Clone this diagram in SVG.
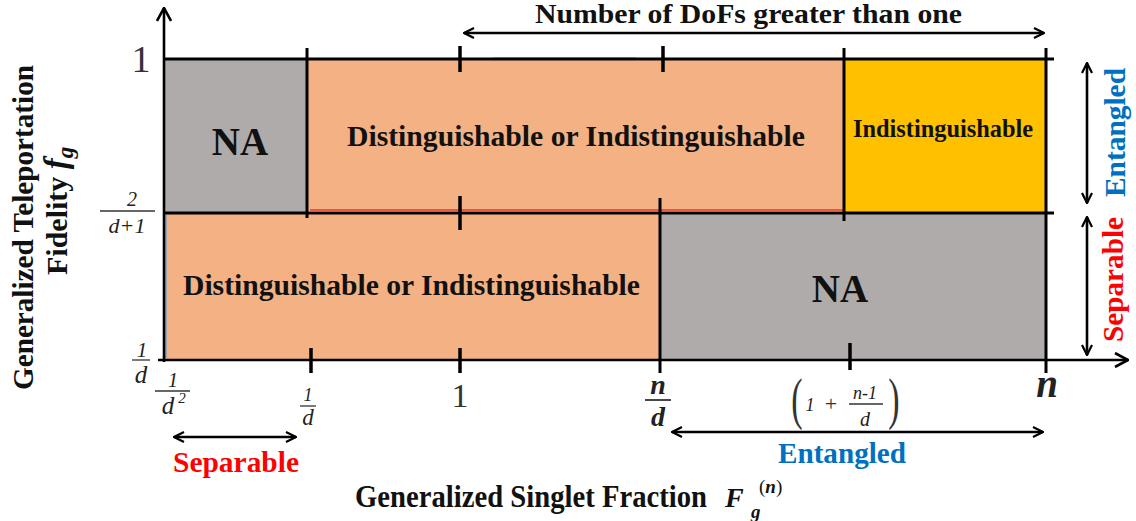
<svg xmlns="http://www.w3.org/2000/svg" width="1136" height="521" viewBox="0 0 1136 521">
<defs>
<marker id="ah" viewBox="0 0 12 12" refX="11" refY="6" markerWidth="12" markerHeight="12" markerUnits="userSpaceOnUse" orient="auto-start-reverse">
<path d="M1,1 L11,6 L1,11" fill="none" stroke="#000" stroke-width="2.2"/>
</marker>
<marker id="ax" viewBox="0 0 16 16" refX="15" refY="8" markerWidth="16" markerHeight="16" markerUnits="userSpaceOnUse" orient="auto">
<path d="M2,1 L15,8 L2,15" fill="none" stroke="#000" stroke-width="2.6"/>
</marker>
</defs>
<style>
.ln{stroke:#000;stroke-width:3;fill:none}
.tk{stroke:#000;stroke-width:3.5}
.arr{stroke:#000;stroke-width:2.6;fill:none}
.b{font-family:"Liberation Serif",serif;font-weight:bold;fill:#111}
.m{font-family:"Liberation Serif",serif;font-style:italic;fill:#222}
.mr{font-family:"Liberation Serif",serif;fill:#333}
.fr{stroke:#333;stroke-width:1.3}
.red{fill:#FF0000}
.blue{fill:#0070C0}
</style>
<rect width="1136" height="521" fill="#fff"/>
<g id="regions">
<g id="na-top"><rect x="164" y="59" width="143" height="154" fill="#AFABAB"/><text class="b" x="240" y="155" font-size="39" text-anchor="middle">NA</text></g>
<g id="dist-top"><rect x="307" y="59" width="537" height="152" fill="#F4B183"/><line x1="310" y1="210" x2="843" y2="210" stroke="#d00" stroke-width="1.2"/><line x1="493" y1="58" x2="636" y2="58" stroke="#70ad47" stroke-width="1"/><text class="b" x="347" y="146" font-size="30" textLength="458" lengthAdjust="spacingAndGlyphs">Distinguishable or Indistinguishable</text></g>
<g id="indist"><rect x="844" y="59" width="202" height="154" fill="#FFC000"/><text class="b" x="853" y="137" font-size="24.5" textLength="180" lengthAdjust="spacingAndGlyphs">Indistinguishable</text></g>
<g id="dist-bottom"><rect x="164" y="213" width="496" height="147" fill="#F4B183"/><line x1="166" y1="215" x2="166" y2="358" stroke="#5b9bd5" stroke-width="1.2"/><text class="b" x="183" y="295" font-size="30" textLength="457" lengthAdjust="spacingAndGlyphs">Distinguishable or Indistinguishable</text></g>
<g id="na-bottom"><rect x="660" y="213" width="386" height="147" fill="#AFABAB"/><text class="b" x="840" y="302" font-size="39" text-anchor="middle">NA</text></g>
</g>
<g id="connectors">
<line class="arr" x1="164" y1="362" x2="164" y2="8" marker-end="url(#ax)"/>
<line class="arr" x1="158" y1="360" x2="1128" y2="360" marker-end="url(#ax)"/>
<line class="ln" x1="164" y1="59" x2="1054" y2="59"/>
<line class="ln" x1="164" y1="213" x2="1054" y2="213"/>
<line class="ln" x1="307" y1="48" x2="307" y2="218"/>
<line class="ln" x1="844" y1="48" x2="844" y2="221"/>
<line class="ln" x1="1046" y1="48" x2="1046" y2="373"/>
<line class="ln" x1="660" y1="198" x2="660" y2="373"/>
<line class="tk" x1="460" y1="46" x2="460" y2="72"/>
<line class="tk" x1="663" y1="46" x2="663" y2="72"/>
<line class="tk" x1="460" y1="196" x2="460" y2="230"/>
<line class="tk" x1="460" y1="348" x2="460" y2="373"/>
<line class="tk" x1="311" y1="348" x2="311" y2="373"/>
<line class="tk" x1="850" y1="343" x2="850" y2="370"/>
<line class="arr" x1="464" y1="33" x2="1044" y2="33" marker-start="url(#ah)" marker-end="url(#ah)"/>
<line class="arr" x1="1087" y1="63" x2="1087" y2="203" marker-start="url(#ah)" marker-end="url(#ah)"/>
<line class="arr" x1="1087" y1="217" x2="1087" y2="355" marker-start="url(#ah)" marker-end="url(#ah)"/>
<line class="arr" x1="174" y1="437" x2="296" y2="437" marker-start="url(#ah)" marker-end="url(#ah)"/>
<line class="arr" x1="672" y1="432" x2="1043" y2="432" marker-start="url(#ah)" marker-end="url(#ah)"/>
</g>
<g id="labels">
<text class="b" x="535" y="23" font-size="27" textLength="427" lengthAdjust="spacingAndGlyphs">Number of DoFs greater than one</text>
<text class="b blue" font-size="30" transform="translate(1125,197) rotate(-90)" textLength="129" lengthAdjust="spacingAndGlyphs">Entangled</text>
<text class="b red" font-size="30" transform="translate(1123,342) rotate(-90)" textLength="125" lengthAdjust="spacingAndGlyphs">Separable</text>
<text class="b red" x="173" y="472" font-size="30" textLength="126" lengthAdjust="spacingAndGlyphs">Separable</text>
<text class="b blue" x="778" y="463" font-size="30" textLength="128" lengthAdjust="spacingAndGlyphs">Entangled</text>
<text class="b" font-size="29.5" transform="translate(33,390) rotate(-90)" textLength="325" lengthAdjust="spacingAndGlyphs">Generalized Teleportation</text>
<text class="b" font-size="30" transform="translate(67,275) rotate(-90)">Fidelity <tspan font-style="italic" font-size="33">f</tspan><tspan font-style="italic" font-size="23" dy="6">g</tspan></text>
<text class="b" x="355" y="507" font-size="31" textLength="352" lengthAdjust="spacingAndGlyphs">Generalized Singlet Fraction</text>
<text class="b" x="725" y="507" font-size="28" font-style="italic" style="fill:#111">F<tspan x="751" y="518" font-size="19">g</tspan><tspan x="759" y="493" font-size="19" font-style="normal" font-weight="normal">(<tspan font-style="italic" font-weight="bold">n</tspan>)</tspan></text>
<!-- y tick labels -->
<text class="mr" x="141" y="72" font-size="38" text-anchor="middle">1</text>
<text class="m" x="132" y="206" font-size="20" text-anchor="middle">2</text>
<line class="fr" x1="100" y1="211" x2="155" y2="211"/>
<text class="m" x="127" y="233" font-size="22" text-anchor="middle">d+1</text>
<text class="m" x="142" y="357" font-size="21" text-anchor="middle">1</text>
<line class="fr" x1="132" y1="360" x2="150" y2="360"/>
<text class="m" x="141" y="383" font-size="25" text-anchor="middle">d</text>
<!-- x tick labels -->
<text class="m" x="173" y="387" font-size="20" text-anchor="middle">1</text>
<line class="fr" x1="155" y1="391" x2="190" y2="391"/>
<text class="m" x="168" y="414" font-size="25" text-anchor="middle">d</text>
<text class="m" x="182" y="403" font-size="15" text-anchor="middle">2</text>
<text class="m" x="308" y="401" font-size="18" text-anchor="middle">1</text>
<line class="fr" x1="300" y1="406" x2="316" y2="406"/>
<text class="m" x="308" y="425" font-size="23" text-anchor="middle">d</text>
<text class="mr" x="460" y="407" font-size="34" text-anchor="middle">1</text>
<text class="m" x="658" y="394" font-size="28" font-weight="bold" text-anchor="middle">n</text>
<line class="fr" x1="645" y1="400" x2="671" y2="400" style="stroke-width:1.8"/>
<text class="m" x="658" y="426" font-size="28" font-weight="bold" text-anchor="middle">d</text>
<text class="mr" font-size="34" transform="translate(797,418) scale(1,1.7)" text-anchor="middle">(</text>
<text class="m" x="810" y="411" font-size="18" text-anchor="middle">1</text>
<text class="mr" x="831" y="411" font-size="22" text-anchor="middle">+</text>
<text class="m" x="865" y="399" font-size="18" text-anchor="middle">n-1</text>
<line class="fr" x1="849" y1="404" x2="883" y2="404"/>
<text class="m" x="865" y="426" font-size="20" text-anchor="middle">d</text>
<text class="mr" font-size="34" transform="translate(894,418) scale(1,1.7)" text-anchor="middle">)</text>
<text class="m" x="1047" y="397" font-size="39" font-weight="bold" text-anchor="middle">n</text>
</g>
</svg>
